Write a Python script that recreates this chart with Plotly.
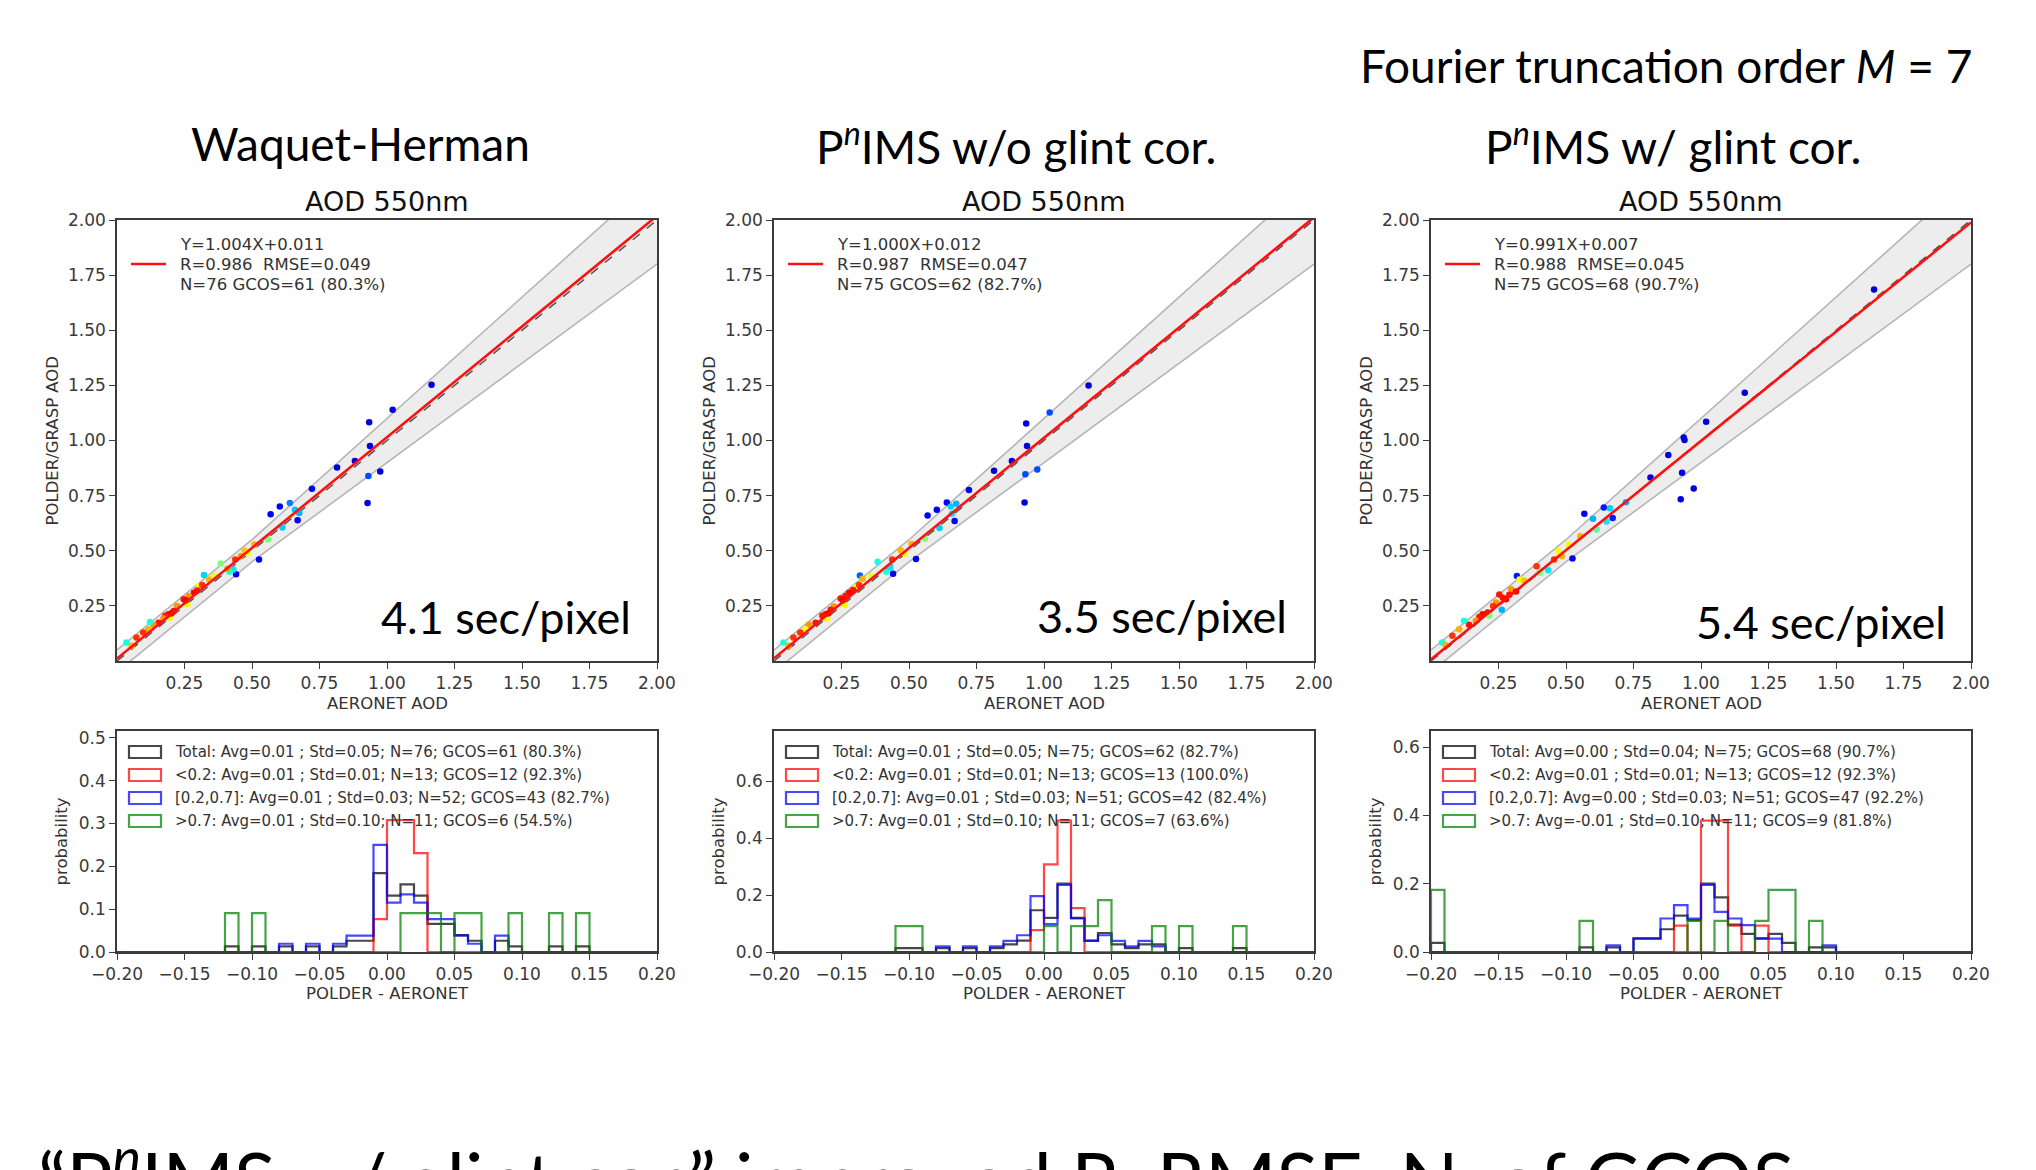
import plotly.graph_objects as go

W, H = 2036, 1170
PAGE_OFFSET = 8  # default body margin of the html page

# ---------------- data ----------------
METHODS = ["Waquet-Herman",
           "P<sup><i>n</i></sup>IMS w/o glint cor.",
           "P<sup><i>n</i></sup>IMS w/ glint cor."]
SPEED = ["4.1 sec/pixel", "3.5 sec/pixel", "5.4 sec/pixel"]
SLOPE = [1.004, 1.000, 0.991]
INTERCEPT = [0.011, 0.012, 0.007]
R_VAL = [0.986, 0.987, 0.988]
RMSE = [0.049, 0.047, 0.045]
N_TOTAL = [76, 75, 75]
N_GCOS = [61, 62, 68]
PCT_GCOS = [80.3, 82.7, 90.7]

GCOS_ABS = 0.05
GCOS_REL = 0.10

AOD_TICKS = [0.25, 0.50, 0.75, 1.00, 1.25, 1.50, 1.75, 2.00]
DIFF_TICKS = [-0.20, -0.15, -0.10, -0.05, 0.00, 0.05, 0.10, 0.15, 0.20]
PROB_TICKS = [[0.0, 0.1, 0.2, 0.3, 0.4, 0.5], [0.0, 0.2, 0.4, 0.6], [0.0, 0.2, 0.4, 0.6]]
PROB_MAX = [0.516, 0.776, 0.647]

# scatter points (AERONET AOD, POLDER AOD, colour value)
X1 = [1.165, 1.021, 0.934, 0.937, 0.881, 0.815, 0.975, 0.931, 0.928, 0.722,
      0.569, 0.603, 0.640, 0.659, 0.675, 0.669, 0.613, 0.526, 0.441, 0.322,
      0.431, 0.416, 0.384, 0.559, 0.509, 0.472, 0.484, 0.459, 0.438, 0.409,
      0.341, 0.303, 0.297, 0.285, 0.266, 0.247, 0.260, 0.222, 0.210, 0.191,
      0.179, 0.197, 0.172, 0.154, 0.135, 0.122, 0.116, 0.097, 0.072, 0.035, 0.054,
      0.315, 0.255, 0.200, 0.360]
Y1 = [1.253, 1.140, 1.083, 0.975, 0.907, 0.878, 0.859, 0.839, 0.716, 0.781,
      0.666, 0.701, 0.716, 0.686, 0.671, 0.638, 0.606, 0.460, 0.393, 0.390,
      0.415, 0.405, 0.442, 0.551, 0.528, 0.501, 0.487, 0.475, 0.460, 0.418,
      0.370, 0.340, 0.320, 0.310, 0.295, 0.280, 0.257, 0.250, 0.227, 0.212,
      0.205, 0.197, 0.193, 0.174, 0.164, 0.177, 0.144, 0.129, 0.107, 0.084, 0.069,
      0.345, 0.275, 0.215, 0.385]
C1 = [0.08, 0.08, 0.08, 0.08, 0.08, 0.08, 0.08, 0.2, 0.08, 0.1,
      0.1, 0.1, 0.25, 0.32, 0.3, 0.12, 0.33, 0.1, 0.1, 0.33,
      0.35, 0.38, 0.5, 0.5, 0.72, 0.7, 0.62, 0.75, 0.85, 0.75,
      0.72, 0.62, 0.88, 0.9, 0.75, 0.88, 0.62, 0.75, 0.88, 0.9,
      0.88, 0.62, 0.75, 0.88, 0.75, 0.38, 0.72, 0.85, 0.85, 0.38, 0.72,
      0.85, 0.9, 0.9, 0.6]

X2 = [1.165, 1.021, 0.934, 0.937, 0.881, 0.815, 0.975, 0.931, 0.928, 0.722,
      0.569, 0.603, 0.640, 0.655, 0.675, 0.659, 0.669, 0.613, 0.526, 0.441,
      0.318, 0.384, 0.431, 0.416, 0.559, 0.509, 0.469, 0.484, 0.438, 0.328,
      0.303, 0.293, 0.278, 0.266, 0.247, 0.262, 0.222, 0.210, 0.191, 0.179,
      0.197, 0.154, 0.129, 0.116, 0.097, 0.072, 0.035, 0.054,
      0.315, 0.255, 0.200, 0.360]
Y2 = [1.250, 1.127, 1.077, 0.975, 0.907, 0.863, 0.869, 0.847, 0.719, 0.776,
      0.660, 0.686, 0.719, 0.701, 0.713, 0.668, 0.635, 0.603, 0.463, 0.396,
      0.388, 0.450, 0.423, 0.405, 0.555, 0.531, 0.502, 0.486, 0.460, 0.373,
      0.335, 0.322, 0.310, 0.295, 0.283, 0.254, 0.247, 0.232, 0.212, 0.205,
      0.193, 0.174, 0.164, 0.144, 0.129, 0.107, 0.084, 0.069,
      0.345, 0.275, 0.215, 0.385]
C2 = [0.08, 0.2, 0.08, 0.08, 0.08, 0.08, 0.2, 0.2, 0.08, 0.1,
      0.1, 0.1, 0.12, 0.33, 0.3, 0.35, 0.12, 0.33, 0.1, 0.1,
      0.22, 0.38, 0.35, 0.38, 0.5, 0.72, 0.72, 0.62, 0.85, 0.72,
      0.62, 0.88, 0.9, 0.88, 0.88, 0.62, 0.75, 0.88, 0.9, 0.88,
      0.62, 0.88, 0.75, 0.62, 0.85, 0.85, 0.38, 0.72,
      0.85, 0.9, 0.9, 0.6]

X3 = [1.641, 1.162, 1.019, 0.936, 0.939, 0.879, 0.813, 0.930, 0.973, 0.925,
      0.722, 0.568, 0.600, 0.640, 0.663, 0.673, 0.650, 0.613, 0.524, 0.318,
      0.434, 0.403, 0.553, 0.509, 0.472, 0.484, 0.456, 0.391, 0.328, 0.297,
      0.266, 0.253, 0.278, 0.262, 0.241, 0.210, 0.191, 0.216, 0.179, 0.166,
      0.141, 0.122, 0.104, 0.079, 0.041, 0.054,
      0.315, 0.290, 0.345, 0.230]
Y3 = [1.685, 1.217, 1.085, 1.014, 1.002, 0.934, 0.832, 0.854, 0.782, 0.734,
      0.720, 0.668, 0.645, 0.696, 0.693, 0.648, 0.633, 0.596, 0.465, 0.385,
      0.412, 0.400, 0.566, 0.528, 0.498, 0.475, 0.460, 0.430, 0.370, 0.325,
      0.287, 0.302, 0.280, 0.232, 0.265, 0.220, 0.212, 0.205, 0.200, 0.182,
      0.164, 0.182, 0.144, 0.114, 0.084, 0.072,
      0.315, 0.300, 0.365, 0.250]
C3 = [0.08, 0.08, 0.08, 0.08, 0.08, 0.08, 0.08, 0.08, 0.08, 0.08,
      0.3, 0.1, 0.3, 0.15, 0.33, 0.15, 0.35, 0.45, 0.1, 0.15,
      0.35, 0.5, 0.72, 0.62, 0.62, 0.72, 0.85, 0.85, 0.62, 0.75,
      0.88, 0.88, 0.9, 0.3, 0.75, 0.88, 0.9, 0.5, 0.88, 0.75,
      0.88, 0.38, 0.72, 0.85, 0.38, 0.72,
      0.9, 0.88, 0.7, 0.85]

# histogram counts, 40 bins of width 0.01 from -0.20 to 0.20
BIN_LEFT = -0.20
BIN_WIDTH = 0.01
T1 = [0,0,0,0,0,0,0,0, 1,0,1,0,1,0,1,0, 1,2,2,14,10,12,10,5, 5,3,2,0,2,1,0,0, 1,0,1,0,0,0,0,0]
R1 = [0,0,0,0,0,0,0,0, 0,0,0,0,0,0,0,0, 0,0,0,1,4,4,3,0, 0,0,0,0,0,0,0,0, 0,0,0,0,0,0,0,0]
B1 = [0,0,0,0,0,0,0,0, 0,0,0,0,1,0,1,0, 1,2,2,13,6,7,6,4, 4,2,1,0,2,0,0,0, 0,0,0,0,0,0,0,0]
G1 = [0,0,0,0,0,0,0,0, 1,0,1,0,0,0,0,0, 0,0,0,0,0,1,1,1, 0,1,1,0,0,1,0,0, 1,0,1,0,0,0,0,0]
T2 = [0,0,0,0,0,0,0,0, 0,1,1,0,1,0,1,0, 1,2,3,11,9,18,9,3, 5,2,1,2,2,0,1,0, 0,0,1,0,0,0,0,0]
R2 = [0,0,0,0,0,0,0,0, 0,0,0,0,0,0,0,0, 0,0,0,1,4,6,2,0, 0,0,0,0,0,0,0,0, 0,0,0,0,0,0,0,0]
B2 = [0,0,0,0,0,0,0,0, 0,0,0,0,1,0,1,0, 1,2,3,10,5,12,6,2, 3,2,1,2,1,0,0,0, 0,0,0,0,0,0,0,0]
G2 = [0,0,0,0,0,0,0,0, 0,1,1,0,0,0,0,0, 0,0,0,0,1,0,1,1, 2,0,0,0,1,0,1,0, 0,0,1,0,0,0,0,0]
T3 = [2,0,0,0,0,0,0,0, 0,0,0,1,0,1,0,3, 3,5,8,7,15,12,6,4, 3,4,2,0,1,1,0,0, 0,0,0,0,0,0,0,0]
R3 = [0,0,0,0,0,0,0,0, 0,0,0,0,0,0,0,0, 0,0,1,0,5,5,1,0, 1,0,0,0,0,0,0,0, 0,0,0,0,0,0,0,0]
B3 = [0,0,0,0,0,0,0,0, 0,0,0,0,0,1,0,2, 2,5,7,5,10,6,5,4, 2,2,0,0,0,1,0,0, 0,0,0,0,0,0,0,0]
G3 = [2,0,0,0,0,0,0,0, 0,0,0,1,0,0,0,0, 0,0,0,1,0,1,0,0, 1,2,2,0,1,0,0,0, 0,0,0,0,0,0,0,0]

GROUP_NAMES = ["Total", "&lt;0.2", "[0.2,0.7]", "&gt;0.7"]
GROUP_N = [[76, 13, 52, 11], [75, 13, 51, 11], [75, 13, 51, 11]]
GROUP_AVG = [["0.01", "0.01", "0.01", "0.01"], ["0.01", "0.01", "0.01", "0.01"], ["0.00", "0.01", "0.00", "-0.01"]]
GROUP_STD = [["0.05", "0.01", "0.03", "0.10"], ["0.05", "0.01", "0.03", "0.10"], ["0.04", "0.01", "0.03", "0.10"]]
GROUP_GCOS = [[61, 12, 43, 6], [62, 13, 42, 7], [68, 12, 47, 9]]
GROUP_PCT = [["80.3", "92.3", "82.7", "54.5"], ["82.7", "100.0", "82.4", "63.6"], ["90.7", "92.3", "92.2", "81.8"]]

SCATTER = [(X1, Y1, C1), (X2, Y2, C2), (X3, Y3, C3)]
HISTS = [(T1, R1, B1, G1), (T2, R2, B2, G2), (T3, R3, B3, G3)]

# ---------------- styling ----------------
GROUP_COLORS = ["rgba(0,0,0,0.72)", "rgba(255,0,0,0.72)", "rgba(0,0,255,0.72)", "rgba(0,128,0,0.72)"]
JET = [[0.0, "#00007f"], [0.11, "#0000ff"], [0.125, "#0000ff"], [0.34, "#00dbff"],
       [0.375, "#13ffe3"], [0.5, "#7cff79"], [0.625, "#ffff00"], [0.66, "#ffea00"],
       [0.875, "#ff1a00"], [0.91, "#e80000"], [1.0, "#7f0000"]]
SLIDE_FONT = "Lato"
MPL_FONT = "DejaVu Sans"
AX_COL = "#3c3c3c"
TXT_COL = "#333333"

SC_LEFT = [117, 774, 1431]
SC_RIGHT = [657, 1314, 1971]
SC_TOP, SC_BOT = 220, 661
HI_TOP, HI_BOT = 731, 952


def px_x(p):
    return (p - PAGE_OFFSET) / W


def px_y(p):
    return 1 - (p - PAGE_OFFSET) / H


fig = go.Figure()

axis_common = dict(showline=True, mirror=True, linecolor=AX_COL, linewidth=1.6,
                   ticks="outside", ticklen=6, tickwidth=1.3, tickcolor=AX_COL,
                   showgrid=False, zeroline=False, fixedrange=True, automargin=False,
                   tickfont=dict(family=MPL_FONT, size=17, color="#3a3a3a"))

layout_axes = {}
annotations = []
shapes = []


def add_text(text, x, y, size, family=MPL_FONT, color=TXT_COL, xanchor="center", yanchor="middle", angle=0):
    annotations.append(dict(text=text, x=px_x(x), y=px_y(y), xref="paper", yref="paper",
                            showarrow=False, xanchor=xanchor, yanchor=yanchor, textangle=angle,
                            align="left", font=dict(family=family, size=size, color=color)))


for k in range(3):
    L, R = SC_LEFT[k], SC_RIGHT[k]
    xs, ys = f"x{k + 1}" if k else "x", f"y{k + 1}" if k else "y"
    xh, yh = f"x{k + 4}", f"y{k + 4}"
    xa_s = "xaxis" if k == 0 else f"xaxis{k + 1}"
    ya_s = "yaxis" if k == 0 else f"yaxis{k + 1}"
    layout_axes[xa_s] = dict(axis_common, domain=[px_x(L), px_x(R)], range=[0, 2],
                             tickvals=AOD_TICKS, ticktext=[f"{v:.2f}" for v in AOD_TICKS], anchor=ys)
    layout_axes[ya_s] = dict(axis_common, domain=[px_y(SC_BOT), px_y(SC_TOP)], range=[0, 2],
                             tickvals=AOD_TICKS, ticktext=[f"{v:.2f}" for v in AOD_TICKS], anchor=xs)
    layout_axes[f"xaxis{k + 4}"] = dict(axis_common, domain=[px_x(L), px_x(R)], range=[-0.2, 0.2],
                                        tickvals=DIFF_TICKS,
                                        ticktext=[f"{v:.2f}".replace("-", "\u2212") for v in DIFF_TICKS],
                                        anchor=yh)
    layout_axes[f"yaxis{k + 4}"] = dict(axis_common, domain=[px_y(HI_BOT), px_y(HI_TOP)], range=[0, PROB_MAX[k]],
                                        tickvals=PROB_TICKS[k], ticktext=[f"{v:.1f}" for v in PROB_TICKS[k]],
                                        anchor=xh)

    # GCOS envelope
    kink = GCOS_ABS / GCOS_REL
    gx = [0.0, kink, 2.0]
    lower = [x - max(GCOS_ABS, GCOS_REL * x) for x in gx]
    upper = [x + max(GCOS_ABS, GCOS_REL * x) for x in gx]
    fig.add_trace(go.Scatter(x=gx, y=lower, mode="lines", line=dict(color="#b5b5b5", width=1.6),
                             xaxis=xs, yaxis=ys, hoverinfo="skip"))
    fig.add_trace(go.Scatter(x=gx, y=upper, mode="lines", line=dict(color="#b5b5b5", width=1.6),
                             fill="tonexty", fillcolor="rgba(215,215,215,0.45)",
                             xaxis=xs, yaxis=ys, hoverinfo="skip"))
    # 1:1 line
    fig.add_trace(go.Scatter(x=[0, 2], y=[0, 2], mode="lines", line=dict(color="#555555", width=1.5, dash="dash"),
                             xaxis=xs, yaxis=ys, hoverinfo="skip"))
    # points
    px_, py_, pc_ = SCATTER[k]
    fig.add_trace(go.Scatter(x=px_, y=py_, mode="markers",
                             marker=dict(size=6.5, color=pc_, colorscale=JET, cmin=0, cmax=1,
                                         showscale=False, line=dict(width=0)),
                             xaxis=xs, yaxis=ys))
    # regression line
    fig.add_trace(go.Scatter(x=[0, 2], y=[INTERCEPT[k], SLOPE[k] * 2 + INTERCEPT[k]], mode="lines",
                             line=dict(color="#ff1010", width=2.6), xaxis=xs, yaxis=ys))

    # histograms (step outlines)
    edges = [round(BIN_LEFT + BIN_WIDTH * i, 2) for i in range(len(HISTS[k][0]) + 1)]
    for g in range(4):
        counts = HISTS[k][g]
        prob = [c / GROUP_N[k][g] for c in counts]
        hx = [edges[0]] + edges[:-1] + [edges[-1]]
        hy = [0] + prob + [0]
        fig.add_trace(go.Scatter(x=hx, y=hy, mode="lines", line=dict(color=GROUP_COLORS[g], width=2.2, shape="hv"),
                                 xaxis=xh, yaxis=yh))

    # ---- annotations ----
    cx = (L + R) / 2
    add_text("AOD 550nm", cx, 202, 27, color="#111111")
    add_text("AERONET AOD", cx, 703, 16.5)
    add_text("POLDER/GRASP AOD", L - 65, (SC_TOP + SC_BOT) / 2, 16.5, angle=-90)
    add_text("POLDER - AERONET", cx, 993, 16.5)
    add_text("probability", L - 56, (HI_TOP + HI_BOT) / 2, 16.5, angle=-90)
    # fit legend
    fit_lines = [f"Y={SLOPE[k]:.3f}X+{INTERCEPT[k]:.3f}",
                 f"R={R_VAL[k]:.3f} \u00a0RMSE={RMSE[k]:.3f}",
                 f"N={N_TOTAL[k]} GCOS={N_GCOS[k]} ({PCT_GCOS[k]:.1f}%)"]
    for i, t in enumerate(fit_lines):
        add_text(t, L + 61, [245, 264.5, 284][i], 16.5, xanchor="left")
    shapes.append(dict(type="line", xref="paper", yref="paper", x0=px_x(L + 14), x1=px_x(L + 49),
                       y0=px_y(264), y1=px_y(264), line=dict(color="#ff1010", width=2.6)))
    # speed label
    add_text(SPEED[k], [506, 1162, 1821][k], [617, 616, 622][k], 45, family=SLIDE_FONT, color="#000000")
    # method title
    add_text(METHODS[k], [360, 1016, 1673][k], 143, 46, family=SLIDE_FONT, color="#000000")
    # histogram legend
    rows = [752, 775, 798, 821]
    for g in range(4):
        shapes.append(dict(type="rect", xref="paper", yref="paper",
                           x0=px_x(L + 12), x1=px_x(L + 44), y0=px_y(rows[g] - 6), y1=px_y(rows[g] + 6),
                           line=dict(color=GROUP_COLORS[g], width=2.2), fillcolor="rgba(0,0,0,0)"))
        txt = (f"{GROUP_NAMES[g]}: Avg={GROUP_AVG[k][g]} ; Std={GROUP_STD[k][g]}; "
               f"N={GROUP_N[k][g]}; GCOS={GROUP_GCOS[k][g]} ({GROUP_PCT[k][g]}%)")
        add_text(txt, L + 56, rows[g], 15, xanchor="left")

add_text("Fourier truncation order <i>M</i> = 7", 1974, 65, 46, family=SLIDE_FONT, color="#000000",
         xanchor="right")
add_text("\u201cP<sup><i>n</i></sup>IMS w/ glint cor.\u201d improved R, RMSE, N. of GCOS",
         36, 1122, 77, family=SLIDE_FONT, color="#000000", xanchor="left", yanchor="top")

fig.update_layout(width=W, height=H, margin=dict(l=0, r=0, t=0, b=0, pad=0, autoexpand=False),
                  paper_bgcolor="white", plot_bgcolor="white", showlegend=False,
                  annotations=annotations, shapes=shapes, **layout_axes)

fig.write_html("out.html")
